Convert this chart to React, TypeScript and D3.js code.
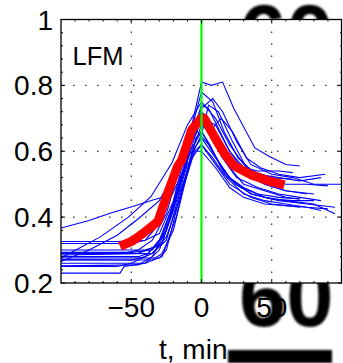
import React from "react";
import * as d3 from "d3";

// axis ticks
const xTicks = [-50, 0, 50];
const xTickLabels = ["\u221250", "0", "50"];
const yTicks = [0.2, 0.4, 0.6, 0.8, 1];
const yTickLabels = ["0.2", "0.4", "0.6", "0.8", "1"];

// mean curve (red)
const meanTimes = [-58, -49, -40, -31, -24, -17, -14, -7, 0, 2, 9, 16, 23, 35, 47, 59];
const meanValues = [0.311, 0.328, 0.356, 0.387, 0.474, 0.554, 0.574, 0.665, 0.701, 0.7, 0.645, 0.595, 0.556, 0.529, 0.511, 0.498];

// individual traces (blue), [t, value]
const traces: [number, number][][] = [
  [[-100, 0.367], [-80, 0.39], [-64, 0.413], [-49, 0.432], [-34, 0.453], [-21, 0.468], [-12, 0.55], [-5, 0.66], [0, 0.72], [5, 0.7], [12, 0.62], [20, 0.55], [30, 0.5], [45, 0.48], [60, 0.46], [70, 0.455]],
  [[-100, 0.326], [-60, 0.326], [-40, 0.33], [-30, 0.35], [-20, 0.45], [-10, 0.62], [0, 0.81], [7, 0.8], [15, 0.81], [23, 0.73], [38, 0.61], [48, 0.585], [60, 0.56], [70, 0.555]],
  [[-100, 0.276], [-72, 0.34], [-52, 0.4], [-36, 0.462], [-21, 0.565], [-10, 0.68], [0, 0.75], [10, 0.7], [20, 0.62], [30, 0.56], [40, 0.53], [55, 0.52], [70, 0.51], [85, 0.52]],
  [[-100, 0.293], [-50, 0.293], [-35, 0.3], [-25, 0.36], [-15, 0.5], [-5, 0.64], [0, 0.7], [5, 0.66], [15, 0.58], [25, 0.52], [40, 0.49], [55, 0.47], [70, 0.46], [85, 0.45]],
  [[-100, 0.289], [-45, 0.29], [-28, 0.32], [-18, 0.46], [-8, 0.6], [0, 0.66], [8, 0.6], [18, 0.52], [30, 0.47], [45, 0.45], [60, 0.44], [75, 0.43], [90, 0.425]],
  [[-100, 0.276], [-30, 0.276], [-25, 0.3], [-15, 0.47], [-5, 0.62], [0, 0.68], [10, 0.64], [20, 0.57], [30, 0.53], [45, 0.5], [60, 0.48], [80, 0.47]],
  [[-100, 0.271], [-50, 0.27], [-40, 0.28], [-30, 0.33], [-20, 0.44], [-10, 0.58], [0, 0.64], [10, 0.58], [20, 0.52], [35, 0.47], [55, 0.45], [75, 0.44], [95, 0.43]],
  [[-100, 0.252], [-45, 0.255], [-35, 0.28], [-25, 0.36], [-15, 0.52], [-5, 0.66], [0, 0.73], [8, 0.76], [15, 0.72], [25, 0.63], [35, 0.56], [50, 0.53], [65, 0.52], [80, 0.5], [100, 0.5]],
  [[-100, 0.23], [-58, 0.23], [-55, 0.25], [-40, 0.26], [-30, 0.3], [-20, 0.42], [-10, 0.56], [0, 0.62], [10, 0.56], [20, 0.5], [35, 0.46], [50, 0.44], [70, 0.43]],
  [[-100, 0.265], [-80, 0.3], [-60, 0.345], [-45, 0.395], [-30, 0.45], [-20, 0.53], [-10, 0.63], [0, 0.7], [10, 0.68], [20, 0.6], [30, 0.54], [45, 0.5], [60, 0.48], [75, 0.47]],
  [[-100, 0.3], [-40, 0.3], [-32, 0.31], [-22, 0.4], [-12, 0.55], [-3, 0.7], [0, 0.74], [5, 0.73], [12, 0.67], [20, 0.6], [30, 0.55], [40, 0.54], [55, 0.54], [65, 0.535]],
  [[-100, 0.285], [-35, 0.29], [-25, 0.33], [-15, 0.48], [-5, 0.6], [0, 0.6], [10, 0.55], [20, 0.49], [30, 0.46], [45, 0.44], [60, 0.435], [75, 0.43], [85, 0.42]],
  [[-100, 0.26], [-40, 0.26], [-28, 0.28], [-18, 0.4], [-8, 0.58], [0, 0.65], [5, 0.74], [12, 0.72], [22, 0.63], [32, 0.55], [45, 0.52], [60, 0.5], [75, 0.5], [90, 0.495]],
  [[-100, 0.32], [-50, 0.32], [-40, 0.33], [-30, 0.38], [-22, 0.48], [-12, 0.6], [-3, 0.66], [5, 0.62], [12, 0.57], [20, 0.52], [30, 0.49], [45, 0.46], [60, 0.45], [80, 0.44], [95, 0.41]],
  [[-100, 0.28], [-45, 0.28], [-38, 0.29], [-28, 0.34], [-18, 0.47], [-8, 0.62], [0, 0.69], [6, 0.66], [14, 0.7], [22, 0.66], [32, 0.58], [42, 0.55], [55, 0.53], [70, 0.52], [88, 0.53]],
  [[-100, 0.25], [-60, 0.25], [-50, 0.26], [-35, 0.29], [-25, 0.34], [-15, 0.46], [-5, 0.6], [0, 0.62], [8, 0.58], [16, 0.53], [28, 0.49], [40, 0.47], [55, 0.46], [70, 0.455]],
  [[-100, 0.29], [-55, 0.29], [-45, 0.3], [-35, 0.33], [-25, 0.41], [-15, 0.56], [-5, 0.7], [0, 0.78], [8, 0.75], [16, 0.66], [26, 0.58], [36, 0.54], [50, 0.52], [65, 0.515]],
  [[-100, 0.27], [-35, 0.27], [-28, 0.29], [-20, 0.36], [-12, 0.5], [-4, 0.64], [0, 0.66], [6, 0.62], [14, 0.55], [24, 0.5], [36, 0.47], [50, 0.455], [65, 0.45], [80, 0.45]],
];

const W = 343;
const H = 363;
const margin = { top: 19.5, right: 1, bottom: 80, left: 61 };
const font = "'Liberation Sans', Arial, Helvetica, sans-serif";

export default function App() {
  const x = d3.scaleLinear().domain([-100, 100]).range([margin.left, W - margin.right]);
  const y = d3.scaleLinear().domain([0.2, 1]).range([H - margin.bottom, margin.top]);
  const [x0, x1] = x.range();
  const [y0, y1] = y.range();

  const line = d3.line<[number, number]>().x((d) => x(d[0])).y((d) => y(d[1]));
  const meanData = meanTimes.map((t, i) => [t, meanValues[i]] as [number, number]);

  const xMinor = d3.range(-90, 100, 10).filter((t) => t % 50 !== 0);
  const yMinor = d3.range(0.24, 1, 0.04);

  return (
    <svg width={W} height={H} style={{ position: "absolute", left: 0, top: 0 }} fontFamily={font}>
      <defs>
        <clipPath id="plot">
          <rect x={x0} y={y1} width={x1 - x0} height={y0 - y1} />
        </clipPath>
        <filter id="soft">
          <feGaussianBlur stdDeviation="0.9" />
        </filter>
      </defs>
      <rect width={W} height={H} fill="#fff" />

      {/* stray big glyphs from neighbouring panels, mostly hidden behind the axes */}
      <text x={239} y={64} fontSize={85} fontWeight="bold" fill="#000" filter="url(#soft)">
        60
      </text>
      <text x={239} y={326} fontSize={85} fontWeight="bold" fill="#000" filter="url(#soft)">
        60
      </text>

      <rect x={x0} y={y1} width={x1 - x0} height={y0 - y1} fill="#fff" />

      {/* grid */}
      {xTicks.map((t) => (
        <line key={"gx" + t} x1={x(t)} x2={x(t)} y1={y1} y2={y0} stroke="#000" strokeWidth={1} strokeDasharray="1.5 10.5" />
      ))}
      {yTicks.slice(1, -1).map((v) => (
        <line key={"gy" + v} x1={x0} x2={x1} y1={y(v)} y2={y(v)} stroke="#000" strokeWidth={1} strokeDasharray="1.5 10.5" />
      ))}

      <g clipPath="url(#plot)">
        {traces.map((tr, i) => (
          <path key={i} d={line(tr) || ""} fill="none" stroke="#0000ff" strokeWidth={1.1} />
        ))}
        <path d={line(meanData) || ""} fill="none" stroke="#ff0000" strokeWidth={9} strokeLinejoin="round" />
        <line x1={x(0)} x2={x(0)} y1={y1} y2={y0} stroke="#00ff00" strokeWidth={2.2} />
      </g>

      {/* ticks */}
      {xTicks.map((t) => (
        <g key={"tx" + t}>
          <line x1={x(t)} x2={x(t)} y1={y0} y2={y0 - 4} stroke="#000" />
          <line x1={x(t)} x2={x(t)} y1={y1} y2={y1 + 4} stroke="#000" />
        </g>
      ))}
      {xMinor.map((t) => (
        <g key={"mx" + t}>
          <line x1={x(t)} x2={x(t)} y1={y0} y2={y0 - 2} stroke="#000" />
          <line x1={x(t)} x2={x(t)} y1={y1} y2={y1 + 2} stroke="#000" />
        </g>
      ))}
      {yTicks.map((v) => (
        <g key={"ty" + v}>
          <line x1={x0} x2={x0 + 4} y1={y(v)} y2={y(v)} stroke="#000" />
          <line x1={x1} x2={x1 - 4} y1={y(v)} y2={y(v)} stroke="#000" />
        </g>
      ))}
      {yMinor.map((v) => (
        <g key={"my" + v}>
          <line x1={x0} x2={x0 + 2} y1={y(v)} y2={y(v)} stroke="#000" />
          <line x1={x1} x2={x1 - 2} y1={y(v)} y2={y(v)} stroke="#000" />
        </g>
      ))}

      <rect x={x0} y={y1} width={x1 - x0 - 0.5} height={y0 - y1} fill="none" stroke="#000" strokeWidth={1.3} />

      {/* tick labels */}
      {yTicks.map((v, i) => (
        <text key={"ly" + v} x={x0 - 8} y={y(v)} dy="0.36em" textAnchor="end" fontSize={28} fill="#000">
          {yTickLabels[i]}
        </text>
      ))}
      {xTicks.map((t, i) => (
        <text key={"lx" + t} x={x(t)} y={317} textAnchor="middle" fontSize={28} fill="#000">
          {xTickLabels[i]}
        </text>
      ))}

      <text x={159} y={359} fontSize={28} fill="#000">
        t, min
      </text>
      <text x={72.5} y={65} fontSize={25.5} fill="#000">
        LFM
      </text>

      <rect x={228} y={350} width={104} height={13} fill="#000" filter="url(#soft)" />
    </svg>
  );
}
